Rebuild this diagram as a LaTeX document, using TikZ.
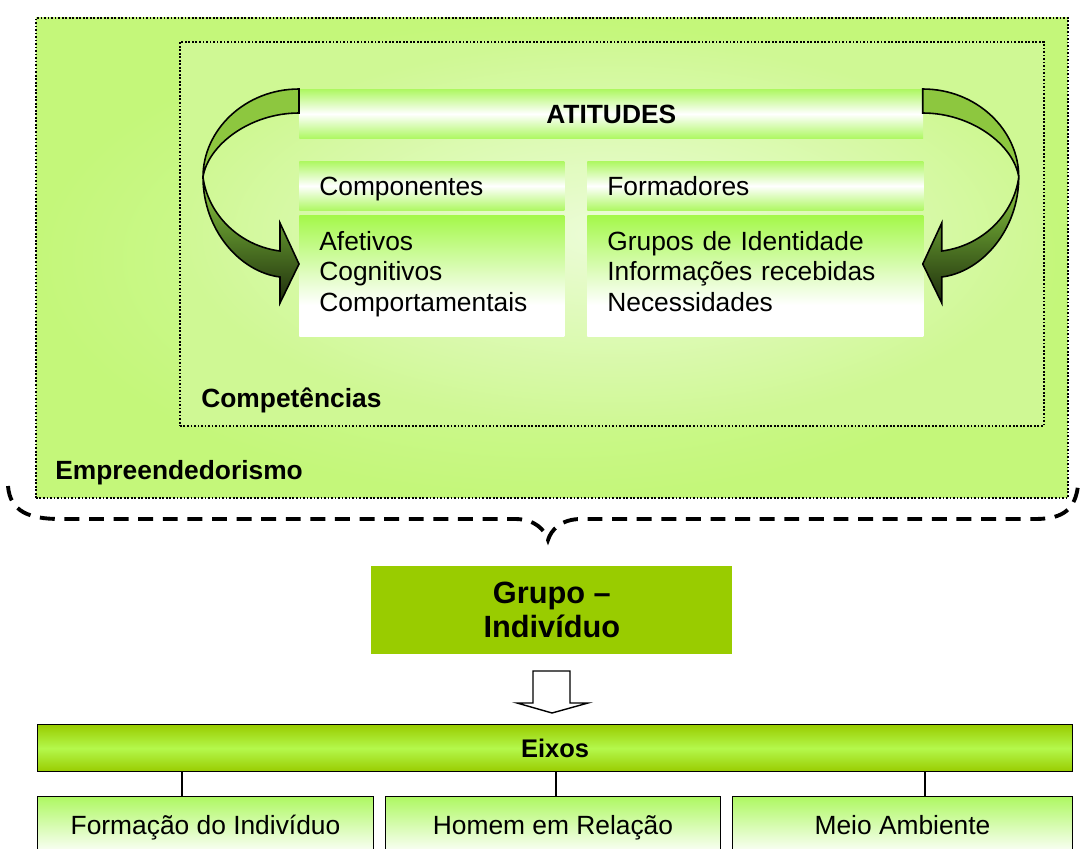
\documentclass[tikz,border=0pt]{standalone}
\usepackage{fontspec}
\setmainfont{Liberation Sans}
\usepackage{tikz}
\usetikzlibrary{positioning,calc,shadings}

\definecolor{outergreen}{HTML}{C4F77A}
\definecolor{outerlight}{HTML}{D8FAAC}
\definecolor{innergreen}{HTML}{CFF894}
\definecolor{innerlight}{HTML}{ECFCD8}
\definecolor{bandgreen}{HTML}{AEF862}
\definecolor{listgreen}{HTML}{A4F84A}
\definecolor{grupogreen}{HTML}{99CC00}
\definecolor{eixosmid}{HTML}{B4F84C}
\definecolor{arrowlight}{HTML}{8DC73F}
\definecolor{arrowmid}{HTML}{5B8A2A}
\definecolor{arrowdark}{HTML}{1E2D0C}

\pgfdeclareverticalshading{listfade}{100bp}{color(0bp)=(white); color(25bp)=(white);
  color(38bp)=(white); color(75bp)=(listgreen); color(100bp)=(listgreen)}
\pgfdeclareverticalshading{arrowfade}{100bp}{color(0bp)=(arrowdark); color(25bp)=(arrowdark);
  color(42bp)=(arrowmid); color(53bp)=(arrowlight); color(100bp)=(arrowlight)}

\begin{document}
\begin{tikzpicture}[x=0.02cm,y=-0.02cm,
    frame/.style={draw,dash pattern=on 1pt off 1pt,line width=1.1pt,anchor=north west,inner sep=0pt},
    band/.style={anchor=north west,top color=bandgreen,bottom color=bandgreen,middle color=white,
      inner xsep=0.4cm,inner ysep=0pt,minimum height=0.98cm,text height=14pt,text depth=3.2pt,
      align=left,font=\fontsize{15}{17.3}\selectfont},
    list/.style={anchor=north west,shading=listfade,inner xsep=0.4cm,inner ysep=0pt,
      minimum height=2.42cm,align=left,font=\fontsize{15}{17.3}\selectfont},
    tag/.style={anchor=west,inner sep=0pt,font=\fontsize{15}{18}\selectfont\bfseries},
    eixo/.style={draw,line width=0.6pt,anchor=north west,top color=bandgreen,bottom color=white,
      minimum height=1.16cm,inner sep=0pt,text height=13pt,text depth=3.2pt,font=\fontsize{15}{18}\selectfont},
    curved/.style={draw,line width=0.9pt,shading=arrowfade}]

  \useasboundingbox (0,0) rectangle (1083,849);
  \clip (0,0) rectangle (1083,849);

  \node[frame,inner color=outerlight,outer color=outergreen,minimum width=20.64cm,minimum height=9.6cm]
    (empreend) at (35,17) {};
  \node[frame,inner color=innerlight,outer color=innergreen,minimum width=17.28cm,minimum height=7.68cm]
    (compet) at (179,41) {};

  \node[band,text width=11.68cm,align=center,font=\fontsize{15}{17.3}\selectfont\bfseries]
    (atitudes) at (299,89) {ATITUDES};
  \node[band,text width=4.5cm] (componentes) at (299,161) {Componentes};
  \node[band,text width=5.92cm] (formadores) at (587,161) {Formadores};
  \node[list,text width=4.5cm] (afetivos) at (299,215) {Afetivos\\Cognitivos\\Comportamentais\strut};
  \node[list,text width=5.92cm] (grupos) at (587,215)
    {Grupos de Identidade\\Informações recebidas\\Necessidades\strut};

  \foreach \s/\dx in {1/0,-1/24.44cm}
  {
    \begin{scope}[xshift=\dx,xscale=\s]
      \path[curved] (299,89) .. controls (245,89) and (203,130) .. (203,177)
        .. controls (203,230) and (240,272) .. (280,277)
        -- (280,303) -- (299,264) -- (280,223) -- (280,251)
        .. controls (240,246) and (208,215) .. (203,177)
        .. controls (208,145) and (250,113) .. (299,113) -- cycle;
    \end{scope}
  }

  \node[tag] (competencias) at (201,400) {Competências};
  \node[tag] (empreendedorismo) at (55,473) {Empreendedorismo};

  \draw[line width=2.2pt,dash pattern=on 8.5pt off 5.5pt]
    (8,486) .. controls (10,512) and (30,519) .. (60,519) -- (515,519)
    .. controls (535,519) and (545,530) .. (548,540)
    .. controls (551,530) and (561,519) .. (581,519) -- (1035,519)
    .. controls (1065,519) and (1075,508) .. (1078,486);

  \node[fill=grupogreen,anchor=north west,minimum width=7.22cm,minimum height=1.76cm,align=center,
    inner sep=0pt,font=\fontsize{17.5}{19.3}\selectfont\bfseries] (grupo) at (371,566) {Grupo –\\Indivíduo};

  \draw[line width=0.8pt,fill=white] (533,671) -- (570,671) -- (570,703) -- (588,703) -- (552,713)
    -- (517,703) -- (533,703) -- cycle;

  \node[draw,line width=0.8pt,anchor=north west,top color=grupogreen,bottom color=grupogreen,middle color=eixosmid,
    minimum width=20.7cm,minimum height=0.94cm,inner sep=0pt,font=\fontsize{14.5}{17}\selectfont\bfseries]
    (eixos) at (37,724) {Eixos};

  \node[eixo,minimum width=6.72cm] (formacao) at (37,796) {Formação do Indivíduo};
  \node[eixo,minimum width=6.7cm] (homem) at (385,796) {Homem em Relação};
  \node[eixo,minimum width=6.8cm] (meio) at (732,796) {Meio Ambiente};

  \foreach \b/\x in {formacao/182,homem/556,meio/925}
    \draw[line width=0.6pt] (eixos.south -| \x,0) -- (\b.north -| \x,0);
\end{tikzpicture}
\end{document}
